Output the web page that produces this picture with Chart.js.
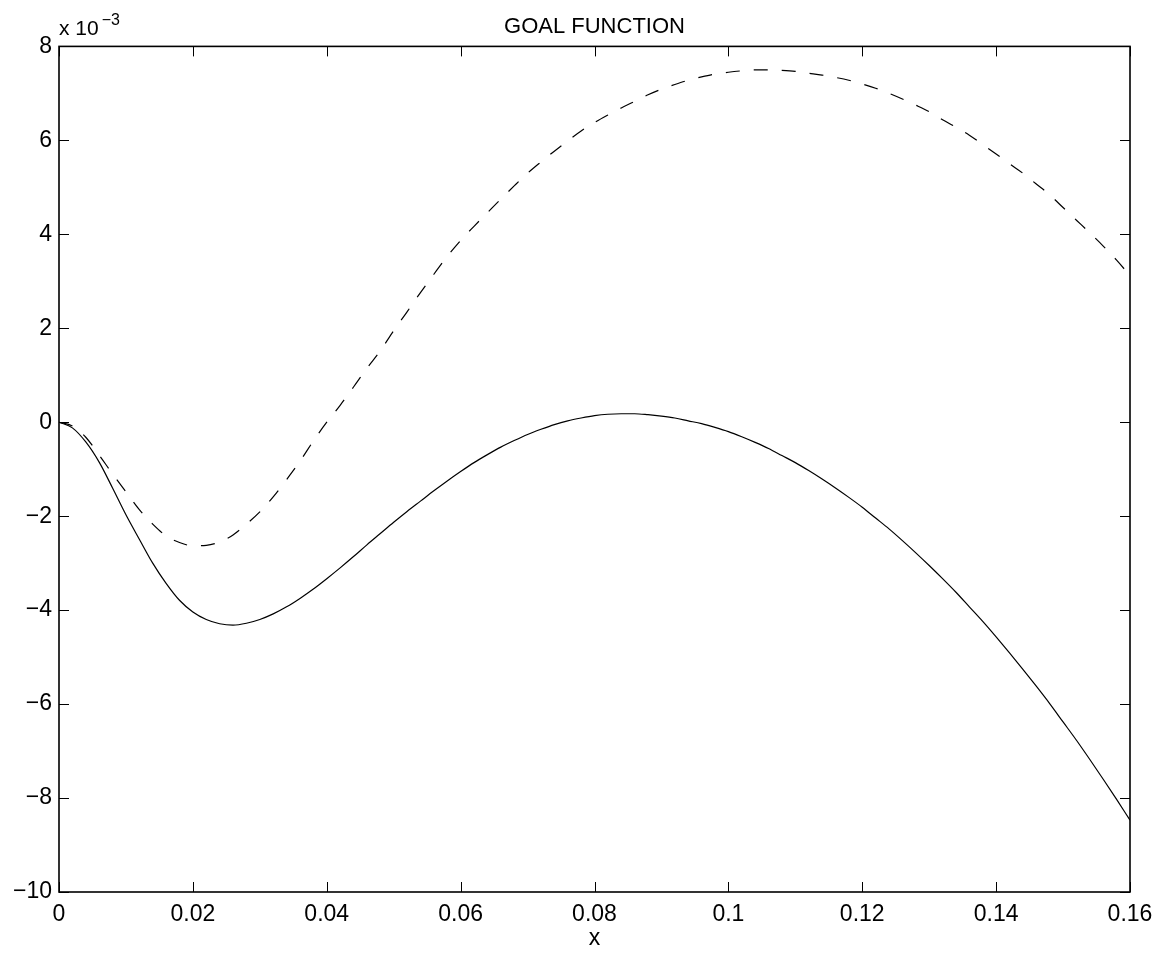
<!DOCTYPE html>
<html lang="en">

<head>
    <title>GOAL FUNCTION</title>
    <meta charset="utf-8" />
    <script src="https://cdn.jsdelivr.net/npm/chart.js"></script>
    <style>
        html, body { margin: 0; padding: 0; background: #fff; }
        #wrap { width: 1167px; height: 955px; }
    </style>
</head>

<body>
    <div id="wrap">
        <canvas id="goalChart"></canvas>
    </div>

    <script>
        // values are in units of 1e-3 (see the "x 10^-3" label)
        const xValues = [0, 0.002, 0.004, 0.006, 0.008, 0.010, 0.012, 0.014, 0.016, 0.018,
            0.020, 0.022, 0.024, 0.026, 0.028, 0.030, 0.032, 0.034, 0.036, 0.038,
            0.040, 0.042, 0.044, 0.046, 0.048, 0.050, 0.052, 0.054, 0.056, 0.058,
            0.060, 0.062, 0.064, 0.066, 0.068, 0.070, 0.072, 0.074, 0.076, 0.078,
            0.080, 0.082, 0.084, 0.086, 0.088, 0.090, 0.092, 0.094, 0.096, 0.098,
            0.100, 0.102, 0.104, 0.106, 0.108, 0.110, 0.112, 0.114, 0.116, 0.118,
            0.120, 0.122, 0.124, 0.126, 0.128, 0.130, 0.132, 0.134, 0.136, 0.138,
            0.140, 0.142, 0.144, 0.146, 0.148, 0.150, 0.152, 0.154, 0.156, 0.158, 0.160];

        const solidValues = [0, -0.12, -0.42, -0.85, -1.40, -1.97, -2.49, -3.00, -3.43, -3.79,
            -4.04, -4.20, -4.29, -4.32, -4.28, -4.20, -4.08, -3.93, -3.75, -3.55,
            -3.33, -3.10, -2.86, -2.61, -2.37, -2.13, -1.90, -1.68, -1.46, -1.25,
            -1.05, -0.86, -0.69, -0.53, -0.39, -0.26, -0.15, -0.05, 0.03, 0.09,
            0.14, 0.17, 0.18, 0.18, 0.16, 0.13, 0.09, 0.03, -0.03, -0.11,
            -0.20, -0.31, -0.43, -0.56, -0.71, -0.86, -1.03, -1.21, -1.40, -1.60,
            -1.81, -2.04, -2.27, -2.52, -2.78, -3.05, -3.33, -3.62, -3.93, -4.24,
            -4.57, -4.91, -5.26, -5.62, -5.99, -6.38, -6.77, -7.18, -7.60, -8.03, -8.47];

        const dashedValues = [0, -0.08, -0.32, -0.70, -1.10, -1.48, -1.86, -2.17, -2.42, -2.56,
            -2.63, -2.62, -2.55, -2.40, -2.17, -1.91, -1.59, -1.22, -0.83, -0.40,
            0.00, 0.36, 0.75, 1.15, 1.52, 1.95, 2.35, 2.76, 3.15, 3.53,
            3.87, 4.17, 4.46, 4.75, 5.03, 5.30, 5.54, 5.77, 5.99, 6.20,
            6.38, 6.54, 6.69, 6.83, 6.97, 7.09, 7.19, 7.28, 7.35, 7.41,
            7.45, 7.48, 7.50, 7.50, 7.49, 7.47, 7.43, 7.39, 7.34, 7.28,
            7.20, 7.11, 7.00, 6.88, 6.75, 6.61, 6.44, 6.28, 6.11, 5.91,
            5.71, 5.50, 5.30, 5.07, 4.84, 4.57, 4.30, 4.03, 3.75, 3.45, 3.12];

        const xTickValues = [0, 0.02, 0.04, 0.06, 0.08, 0.1, 0.12, 0.14, 0.16];
        const xTickLabels = ['0', '0.02', '0.04', '0.06', '0.08', '0.1', '0.12', '0.14', '0.16'];
        const yTickValues = [-10, -8, -6, -4, -2, 0, 2, 4, 6, 8];
        const yTickLabels = ['\u221210', '\u22128', '\u22126', '\u22124', '\u22122', '0', '2', '4', '6', '8'];

        const FONT = "'Liberation Sans', Arial, Helvetica, sans-serif";

        function toPoints(ys) {
            return xValues.map((x, i) => ({ x: x, y: ys[i] }));
        }

        // box round the plot, ticks pointing inwards, and the exponent label
        const frame = {
            id: 'frame',
            afterDraw(chart) {
                const ctx = chart.ctx;
                const { left, right, top, bottom } = chart.chartArea;
                const sx = chart.scales.x, sy = chart.scales.y;
                const len = 10;
                ctx.save();
                ctx.strokeStyle = '#000';
                ctx.lineWidth = 1;
                ctx.beginPath();
                sx.ticks.forEach(t => {
                    const p = Math.round(sx.getPixelForValue(t.value)) + 0.5;
                    ctx.moveTo(p, bottom); ctx.lineTo(p, bottom - len);
                    ctx.moveTo(p, top); ctx.lineTo(p, top + len);
                });
                sy.ticks.forEach(t => {
                    const p = Math.round(sy.getPixelForValue(t.value)) + 0.5;
                    ctx.moveTo(left, p); ctx.lineTo(left + len, p);
                    ctx.moveTo(right, p); ctx.lineTo(right - len, p);
                });
                ctx.stroke();
                ctx.lineWidth = 1.6;
                ctx.strokeRect(left, top, right - left, bottom - top);

                ctx.fillStyle = '#000';
                ctx.textAlign = 'left';
                ctx.textBaseline = 'alphabetic';
                ctx.font = '21px ' + FONT;
                ctx.fillText('x 10', left, top - 11);
                const w = ctx.measureText('x 10').width;
                ctx.font = '16px ' + FONT;
                ctx.fillText('\u22123', left + w + 3, top - 21);
                ctx.restore();
            }
        };

        const ctx = document.getElementById('goalChart').getContext('2d');
        new Chart(ctx, {
            type: 'scatter',
            data: {
                datasets: [{
                    label: 'solid',
                    data: toPoints(solidValues),
                    showLine: true,
                    borderColor: '#000',
                    borderWidth: 1.2,
                    pointRadius: 0,
                    cubicInterpolationMode: 'monotone'
                }, {
                    label: 'dashed',
                    data: toPoints(dashedValues),
                    showLine: true,
                    borderColor: '#000',
                    borderWidth: 1.2,
                    borderDash: [14, 14],
                    pointRadius: 0,
                    cubicInterpolationMode: 'monotone'
                }]
            },
            options: {
                responsive: true,
                maintainAspectRatio: false,
                animation: false,
                layout: { padding: { left: 0, right: 37, top: 0, bottom: 0 } },
                plugins: {
                    legend: { display: false },
                    tooltip: { enabled: false },
                    title: {
                        display: true,
                        text: 'GOAL FUNCTION',
                        fullSize: false,
                        color: '#000',
                        font: { family: FONT, size: 22, weight: 'normal' },
                        padding: { top: 14, bottom: 6 }
                    }
                },
                scales: {
                    x: {
                        type: 'linear',
                        min: 0,
                        max: 0.16,
                        afterBuildTicks: s => { s.ticks = xTickValues.map(v => ({ value: v })); },
                        afterFit: s => { s.height = 63; },
                        grid: { display: false, drawTicks: false },
                        border: { display: false },
                        ticks: {
                            color: '#000',
                            padding: 9,
                            maxRotation: 0,
                            font: { family: FONT, size: 23 },
                            callback: (v) => xTickLabels[xTickValues.indexOf(v)]
                        },
                        title: {
                            display: true,
                            text: 'x',
                            color: '#000',
                            font: { family: FONT, size: 23 },
                            padding: { top: 0, bottom: 3 }
                        }
                    },
                    y: {
                        type: 'linear',
                        min: -10,
                        max: 8,
                        afterBuildTicks: s => { s.ticks = yTickValues.map(v => ({ value: v })); },
                        afterFit: s => { s.width = 59; },
                        grid: { display: false, drawTicks: false },
                        border: { display: false },
                        ticks: {
                            color: '#000',
                            padding: 7,
                            font: { family: FONT, size: 23 },
                            callback: (v) => yTickLabels[yTickValues.indexOf(v)]
                        }
                    }
                }
            },
            plugins: [frame]
        });
    </script>
</body>

</html>
